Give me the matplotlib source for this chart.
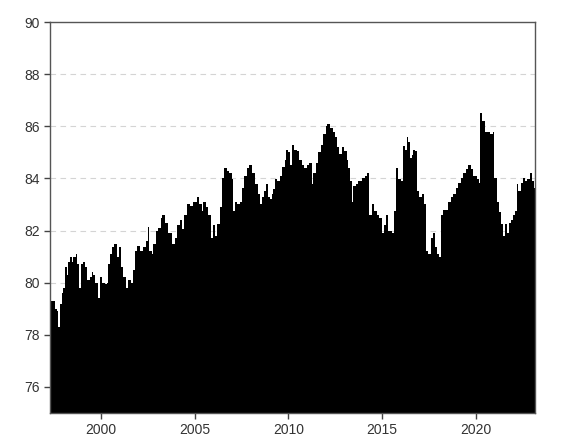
import numpy as np
import matplotlib.pyplot as plt

# Werte (Jahr als Dezimalzahl, Wert)
jahre = [
    1997.30, 1997.55, 1997.64, 1997.72, 1997.81, 1997.90, 1998.00, 1998.08, 1998.17, 1998.26,
    1998.35, 1998.44, 1998.53, 1998.65, 1998.74, 1998.83, 1998.92, 1999.06, 1999.15, 1999.24,
    1999.33, 1999.42, 1999.50, 1999.59, 1999.68, 1999.86, 1999.95, 2000.04, 2000.21, 2000.30,
    2000.39, 2000.48, 2000.57, 2000.69, 2000.80, 2000.87, 2000.98, 2001.07, 2001.19, 2001.33,
    2001.46, 2001.58, 2001.72, 2001.80, 2001.94, 2002.08, 2002.26, 2002.40, 2002.49, 2002.58,
    2002.70, 2002.79, 2002.93, 2003.06, 2003.18, 2003.27, 2003.41, 2003.59, 2003.77, 2003.95,
    2004.04, 2004.21, 2004.30, 2004.43, 2004.57, 2004.75, 2004.93, 2005.10, 2005.25, 2005.37,
    2005.46, 2005.60, 2005.72, 2005.87, 2005.99, 2006.08, 2006.21, 2006.35, 2006.44, 2006.56,
    2006.70, 2006.85, 2006.97, 2007.02, 2007.15, 2007.27, 2007.41, 2007.50, 2007.63, 2007.77,
    2007.90, 2008.04, 2008.22, 2008.39, 2008.48, 2008.57, 2008.69, 2008.80, 2008.92, 2009.01,
    2009.10, 2009.19, 2009.28, 2009.40, 2009.55, 2009.68, 2009.80, 2009.87, 2009.98, 2010.08,
    2010.19, 2010.29, 2010.44, 2010.58, 2010.70, 2010.83, 2010.97, 2011.11, 2011.24, 2011.33,
    2011.47, 2011.59, 2011.72, 2011.86, 2011.98, 2012.07, 2012.21, 2012.36, 2012.48, 2012.61,
    2012.71, 2012.84, 2012.96, 2013.10, 2013.19, 2013.28, 2013.37, 2013.46, 2013.60, 2013.73,
    2013.90, 2014.08, 2014.20, 2014.31, 2014.44, 2014.56, 2014.70, 2014.85, 2014.97, 2015.09,
    2015.20, 2015.33, 2015.50, 2015.63, 2015.72, 2015.86, 2015.98, 2016.09, 2016.21, 2016.30,
    2016.39, 2016.48, 2016.57, 2016.66, 2016.75, 2016.84, 2016.98, 2017.10, 2017.23, 2017.33,
    2017.46, 2017.58, 2017.69, 2017.81, 2017.90, 2018.01, 2018.12, 2018.26, 2018.44, 2018.53,
    2018.65, 2018.79, 2018.93, 2019.06, 2019.18, 2019.32, 2019.47, 2019.59, 2019.72, 2019.86,
    2020.04, 2020.14, 2020.21, 2020.34, 2020.48, 2020.61, 2020.75, 2020.89, 2020.96, 2021.10,
    2021.23, 2021.32, 2021.42, 2021.55, 2021.64, 2021.74, 2021.85, 2021.96, 2022.08, 2022.17,
    2022.26, 2022.38, 2022.49, 2022.61, 2022.74, 2022.88, 2022.97, 2023.09, 2023.16,
]
werte = [
    79.3, 79.0, 78.9, 78.3, 79.2, 79.6, 79.8, 80.6, 80.3, 80.8,
    81.0, 80.8, 81.0, 81.1, 80.7, 79.8, 80.7, 80.8, 80.6, 80.1,
    80.1, 80.2, 80.4, 80.3, 80.0, 79.4, 80.2, 80.0, 79.95, 80.0,
    80.7, 81.1, 81.35, 81.5, 81.5, 80.97, 81.35, 80.6, 80.2, 79.8,
    80.1, 80.0, 80.5, 81.2, 81.4, 81.2, 81.35, 81.6, 82.15, 81.2,
    81.1, 81.5, 82.0, 82.1, 82.5, 82.6, 82.3, 81.9, 81.5, 81.7,
    82.2, 82.4, 82.05, 82.6, 83.0, 82.95, 83.1, 83.3, 83.0, 82.75,
    83.1, 82.9, 82.6, 81.7, 82.2, 81.8, 82.25, 82.9, 84.0, 84.4,
    84.3, 84.2, 83.97, 82.75, 83.1, 83.0, 83.1, 83.65, 84.1, 84.4,
    84.5, 84.2, 83.8, 83.4, 83.0, 83.3, 83.5, 83.8, 83.3, 83.2,
    83.4, 83.6, 83.97, 83.9, 84.1, 84.45, 84.7, 85.1, 85.0, 84.5,
    85.3, 85.1, 85.05, 84.7, 84.5, 84.4, 84.5, 84.6, 83.8, 84.2,
    84.6, 85.0, 85.3, 85.7, 86.0, 86.1, 85.95, 85.8, 85.6, 85.2,
    84.93, 85.2, 85.05, 84.7, 84.4, 83.9, 83.1, 83.7, 83.8, 83.9,
    84.0, 84.1, 84.2, 82.6, 83.0, 82.75, 82.6, 82.5, 81.9, 82.2,
    82.6, 82.0, 81.9, 82.75, 84.4, 83.97, 83.9, 85.25, 85.1, 85.6,
    85.4, 84.8, 84.9, 85.1, 85.05, 83.5, 83.3, 83.4, 83.0, 81.2,
    81.1, 81.7, 81.9, 81.35, 81.1, 81.0, 82.6, 82.8, 82.8, 83.1,
    83.3, 83.4, 83.65, 83.84, 84.0, 84.2, 84.35, 84.5, 84.35, 84.1,
    83.97, 83.84, 86.5, 86.2, 85.8, 85.8, 85.7, 85.8, 84.0, 83.1,
    82.7, 82.25, 81.8, 82.25, 81.9, 82.3, 82.4, 82.6, 82.75, 83.8,
    83.5, 83.84, 84.0, 83.9, 83.97, 84.2, 83.9, 83.65, 83.65,
]
x_ticks = [2000, 2005, 2010, 2015, 2020]
y_ticks = [76, 78, 80, 82, 84, 86, 88, 90]

plt.rcParams['font.family'] = ['Liberation Sans', 'DejaVu Sans']

fig = plt.figure(figsize=(5.68, 4.41), dpi=100)
ax = fig.add_axes([0.088, 0.0635, 0.854, 0.8865])

ax.fill_between(jahre, werte, 75, step='post', color='black', linewidth=0)

ax.set_xlim(1997.28, 2023.15)
ax.set_ylim(75, 90)
ax.set_xticks(x_ticks)
ax.set_yticks(y_ticks)

ax.set_axisbelow(True)
ax.yaxis.grid(True, linestyle=(0, (5, 4)), color='#d4d4d4', linewidth=0.8)

for s in ax.spines.values():
    s.set_color('#555555')
    s.set_linewidth(1.0)
ax.tick_params(direction='out', length=4, width=1, color='#444444',
               labelsize=10, labelcolor='#333333')

fig.savefig('out.png', dpi=100)
